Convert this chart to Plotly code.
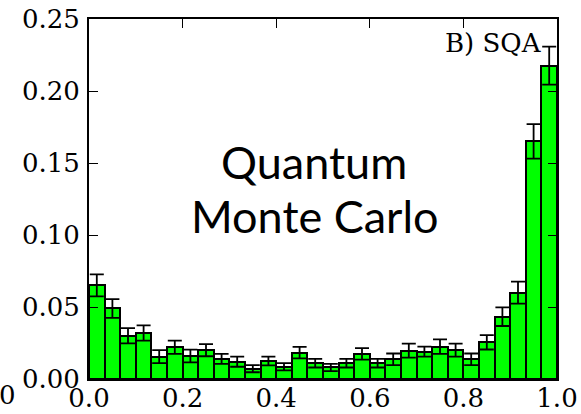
import numpy as np
import plotly.graph_objects as go

# Histogram of 30 equal bins on [0, 1]
n_bins = 30
bin_width = 1.0 / n_bins
bin_centers = (np.arange(n_bins) + 0.5) * bin_width

frequency = [0.065, 0.049, 0.030, 0.032, 0.0155, 0.022, 0.016, 0.020, 0.014, 0.012,
             0.0072, 0.0125, 0.0085, 0.0183, 0.011, 0.008, 0.011, 0.0174, 0.011, 0.0137,
             0.0197, 0.019, 0.0225, 0.020, 0.0137, 0.0255, 0.0433, 0.060, 0.165, 0.2176]
errors = [0.0076, 0.0065, 0.0053, 0.0053, 0.0045, 0.0046, 0.0044, 0.0042, 0.0035, 0.0035,
          0.0025, 0.003, 0.0025, 0.004, 0.003, 0.0025, 0.003, 0.004, 0.003, 0.004,
          0.0048, 0.0035, 0.005, 0.0045, 0.004, 0.005, 0.0065, 0.0076, 0.012, 0.0132]

x_ticks = [0.0, 0.2, 0.4, 0.6, 0.8, 1.0]
y_ticks = [0.00, 0.05, 0.10, 0.15, 0.20, 0.25]

serif = "DejaVu Serif"

fig = go.Figure()
fig.add_trace(go.Bar(
    x=bin_centers, y=frequency, width=bin_width,
    marker=dict(color="#00ff00", line=dict(color="black", width=2)),
    error_y=dict(type="data", array=errors, visible=True,
                 color="black", thickness=1.8, width=7),
    showlegend=False,
))

axis_common = dict(
    showline=True, linewidth=2, linecolor="black", mirror="ticks",
    ticks="inside", ticklen=9, tickwidth=1, tickcolor="black",
    showgrid=False, zeroline=False, automargin=False,
    tickfont=dict(family=serif, size=26, color="black"),
)
fig.update_xaxes(range=[0, 1], tickvals=x_ticks,
                 ticktext=[f"{v:.1f}" for v in x_ticks], ticklabelstandoff=-5,
                 **axis_common)
fig.update_yaxes(range=[0, 0.25], tickvals=y_ticks,
                 ticktext=[f"{v:.2f}" for v in y_ticks], ticklabelstandoff=2,
                 **axis_common)

fig.add_annotation(text="Quantum", xref="paper", yref="paper",
                   x=(314 - 89) / 468, y=(379 - 162) / 360,
                   xanchor="center", yanchor="middle", showarrow=False,
                   font=dict(family="Lato", size=45, color="black"))
fig.add_annotation(text="Monte Carlo", xref="paper", yref="paper",
                   x=(315 - 89) / 468, y=(379 - 216) / 360,
                   xanchor="center", yanchor="middle", showarrow=False,
                   font=dict(family="Lato", size=45, color="black"))
fig.add_annotation(text="B) SQA", xref="paper", yref="paper",
                   x=(443 - 89) / 468, y=(379 - 43) / 360,
                   xanchor="left", yanchor="middle", showarrow=False,
                   font=dict(family=serif, size=26, color="black"))
fig.add_annotation(text="0", xref="paper", yref="paper",
                   x=(7.5 - 89) / 468, y=(379 - 395) / 360,
                   xanchor="center", yanchor="middle", showarrow=False,
                   font=dict(family=serif, size=26, color="black"))

fig.update_layout(
    width=581, height=414,
    margin=dict(l=89, r=24, t=19, b=35),
    paper_bgcolor="white", plot_bgcolor="white",
    bargap=0,
)
fig.write_html("out.html")
